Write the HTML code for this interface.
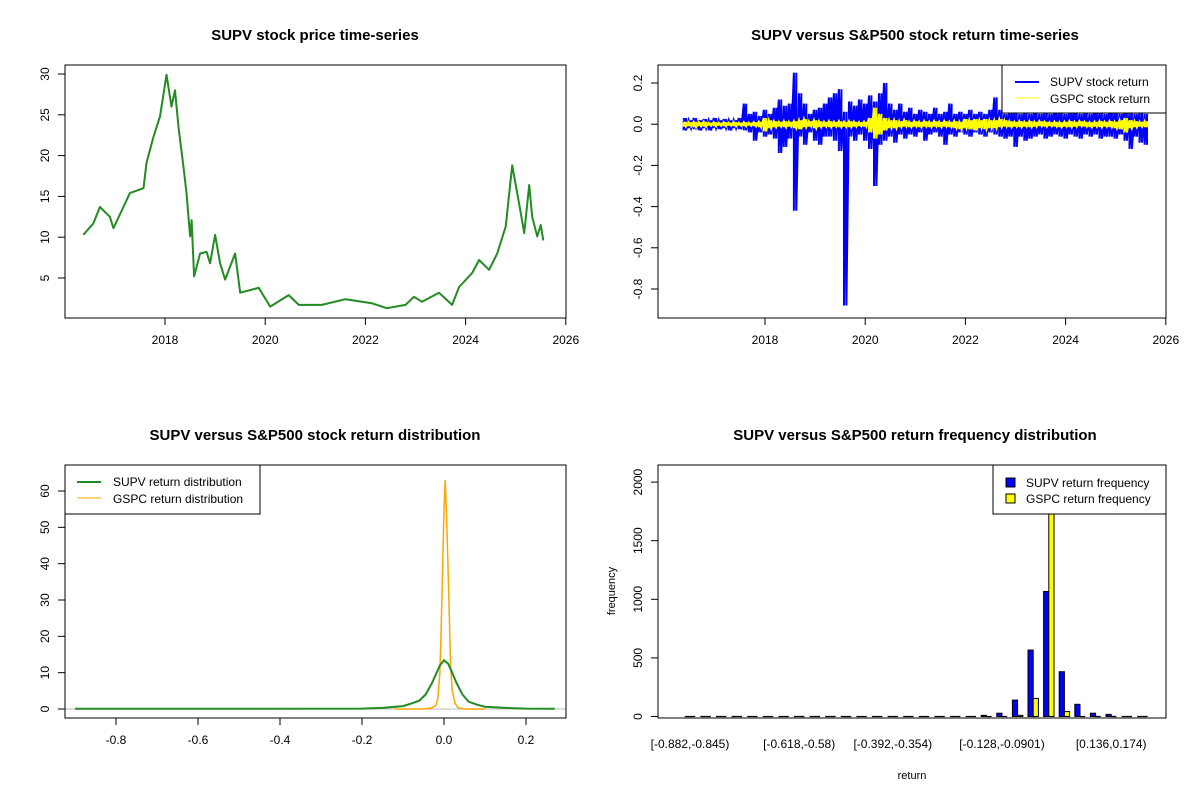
<!DOCTYPE html>
<html><head><meta charset="utf-8"><style>
html,body{margin:0;padding:0;background:#fff;}
svg{display:block;font-family:"Liberation Sans",Arial,sans-serif;}
.t{font-weight:bold;font-size:15px;text-anchor:middle;}
.tk{font-size:12px;}
</style></head><body>
<svg id="c" width="1200" height="800" viewBox="0 0 1200 800" xmlns="http://www.w3.org/2000/svg"></svg>
<script>
// ---- Panel 1: price ----
const priceYears=[2016.37,2016.57,2016.7,2016.9,2016.97,2017.17,2017.3,2017.57,2017.63,2017.77,2017.9,2018.03,2018.13,2018.2,2018.27,2018.37,2018.43,2018.5,2018.53,2018.58,2018.7,2018.83,2018.9,2019.0,2019.1,2019.2,2019.4,2019.5,2019.87,2020.1,2020.47,2020.67,2021.13,2021.6,2022.13,2022.43,2022.8,2022.97,2023.13,2023.47,2023.73,2023.87,2024.13,2024.27,2024.47,2024.63,2024.8,2024.93,2025.03,2025.1,2025.17,2025.27,2025.33,2025.43,2025.5,2025.55];
const priceValues=[10.3,11.7,13.7,12.5,11.1,13.7,15.4,16,19.1,22.3,24.8,29.9,26,28,23.5,18.6,15.4,10.1,12.1,5.2,8,8.2,6.8,10.3,6.8,4.8,8,3.2,3.8,1.5,2.9,1.7,1.7,2.4,1.9,1.3,1.7,2.7,2.1,3.2,1.7,3.9,5.6,7.2,6.0,8,11.3,18.8,15.4,13,10.5,16.4,12.5,10.1,11.5,9.6];
const yearTicks=[2018,2020,2022,2024,2026];
const priceTicks=[5,10,15,20,25,30];
// ---- Panel 2: returns (sampled every 0.1 yr from 2016.4) ----
const retStart=2016.4, retStep=0.1;
const supvUp=[0.03,0.02,0.03,0.02,0.025,0.02,0.03,0.02,0.025,0.02,0.02,0.03,0.1,0.05,0.06,0.04,0.07,0.05,0.08,0.12,0.09,0.1,0.25,0.15,0.1,0.05,0.07,0.08,0.1,0.13,0.15,0.17,0.06,0.11,0.09,0.12,0.1,0.14,0.11,0.15,0.2,0.1,0.07,0.1,0.06,0.08,0.05,0.07,0.06,0.05,0.08,0.05,0.06,0.1,0.05,0.06,0.05,0.07,0.05,0.06,0.05,0.07,0.13,0.07,0.05,0.06,0.07,0.05,0.06,0.05,0.07,0.05,0.06,0.05,0.07,0.06,0.05,0.06,0.07,0.05,0.06,0.05,0.07,0.06,0.05,0.07,0.06,0.05,0.07,0.06,0.05,0.06,0.05];
const supvDown=[-0.03,-0.02,-0.025,-0.03,-0.02,-0.03,-0.02,-0.025,-0.02,-0.03,-0.02,-0.025,-0.03,-0.04,-0.08,-0.04,-0.06,-0.05,-0.07,-0.14,-0.11,-0.07,-0.42,-0.06,-0.1,-0.04,-0.08,-0.1,-0.06,-0.06,-0.08,-0.13,-0.88,-0.06,-0.08,-0.05,-0.08,-0.12,-0.3,-0.1,-0.08,-0.06,-0.09,-0.05,-0.07,-0.05,-0.06,-0.04,-0.08,-0.05,-0.04,-0.06,-0.1,-0.05,-0.06,-0.04,-0.05,-0.06,-0.04,-0.05,-0.06,-0.04,-0.05,-0.06,-0.07,-0.06,-0.11,-0.06,-0.08,-0.07,-0.06,-0.05,-0.07,-0.06,-0.05,-0.06,-0.07,-0.05,-0.06,-0.07,-0.05,-0.06,-0.05,-0.07,-0.06,-0.06,-0.07,-0.05,-0.08,-0.12,-0.06,-0.09,-0.1];
const gspcUp=[0.012,0.01,0.012,0.01,0.012,0.008,0.01,0.008,0.01,0.008,0.01,0.008,0.01,0.008,0.01,0.012,0.03,0.02,0.015,0.012,0.015,0.012,0.015,0.02,0.025,0.015,0.02,0.015,0.012,0.015,0.012,0.015,0.012,0.015,0.012,0.01,0.012,0.03,0.08,0.05,0.03,0.02,0.02,0.015,0.02,0.012,0.015,0.012,0.015,0.012,0.015,0.012,0.015,0.012,0.015,0.012,0.025,0.02,0.025,0.02,0.025,0.02,0.02,0.025,0.02,0.015,0.012,0.015,0.012,0.015,0.012,0.015,0.012,0.01,0.012,0.01,0.012,0.015,0.012,0.015,0.012,0.01,0.012,0.015,0.012,0.015,0.012,0.02,0.03,0.02,0.015,0.012,0.015];
const gspcDown=[-0.012,-0.01,-0.015,-0.01,-0.012,-0.008,-0.01,-0.008,-0.01,-0.008,-0.01,-0.008,-0.01,-0.008,-0.01,-0.015,-0.035,-0.02,-0.015,-0.012,-0.015,-0.012,-0.02,-0.025,-0.015,-0.012,-0.02,-0.015,-0.012,-0.015,-0.012,-0.015,-0.012,-0.015,-0.012,-0.01,-0.012,-0.04,-0.07,-0.05,-0.03,-0.02,-0.02,-0.015,-0.012,-0.015,-0.012,-0.015,-0.012,-0.015,-0.012,-0.015,-0.012,-0.015,-0.02,-0.025,-0.02,-0.025,-0.03,-0.02,-0.025,-0.02,-0.02,-0.015,-0.012,-0.015,-0.012,-0.015,-0.012,-0.015,-0.012,-0.01,-0.012,-0.01,-0.012,-0.015,-0.012,-0.015,-0.012,-0.01,-0.012,-0.015,-0.012,-0.015,-0.012,-0.015,-0.02,-0.025,-0.04,-0.02,-0.015,-0.012,-0.015];
const retTicks=[0.2,0,-0.2,-0.4,-0.6,-0.8];
// ---- Panel 3: density ----
const supvDensX=[-0.9,-0.5,-0.2,-0.15,-0.1,-0.08,-0.06,-0.045,-0.03,-0.02,-0.01,0,0.01,0.02,0.03,0.045,0.06,0.08,0.1,0.15,0.2,0.27];
const supvDensY=[0.05,0.05,0.1,0.3,0.8,1.5,2.3,4,7,9.5,12,13.4,12.5,10,7.3,4,2,1.2,0.6,0.3,0.1,0.05];
const gspcDensX=[-0.12,-0.05,-0.03,-0.02,-0.015,-0.01,-0.005,0,0.003,0.007,0.012,0.016,0.02,0.027,0.035,0.05,0.1];
const gspcDensY=[0,0,0.3,1,3,10,30,55,63,50,30,12,5,1.5,0.3,0,0];
const densXTicks=[-0.8,-0.6,-0.4,-0.2,0,0.2];
const densYTicks=[0,10,20,30,40,50,60];
// ---- Panel 4: histogram (30 bins) ----
const binLabels=["[-0.882,-0.845)","","","","","","","[-0.618,-0.58)","","","","","","[-0.392,-0.354)","","","","","","","[-0.128,-0.0901)","","","","","","","[0.136,0.174)","",""];
const supvFreq=[1,0,0,0,0,0,0,0,0,0,0,0,0,0,0,0,0,0,8,10,28,140,567,1067,382,104,28,18,8,8];
const gspcFreq=[0,0,0,0,0,0,0,0,0,0,0,0,0,0,0,0,0,0,0,0,2,10,154,2300,42,5,1,0,0,0];
const freqTicks=[0,500,1000,1500,2000];

const NS="http://www.w3.org/2000/svg";
const svg=document.getElementById('c');
function mk(tag,attrs,parent,text){const e=document.createElementNS(NS,tag);for(const k in attrs)e.setAttribute(k,attrs[k]);if(text!==undefined)e.textContent=text;(parent||svg).appendChild(e);return e;}
function fmt(v,d){return v.toFixed(d);}
function box(g,x0,y0,x1,y1){const r=mk('rect',{x:x0,y:y0,width:x1-x0,height:y1-y0,fill:'none',stroke:'#000','stroke-width':1},g);}
function yAxis(g,ticks,fy,x0,dec){ticks.forEach(v=>{const y=fy(v);mk('line',{x1:x0-7,x2:x0,y1:y,y2:y,stroke:'#000'},g);const t=mk('text',{x:x0-16,y:y,'text-anchor':'middle',class:'tk',transform:`rotate(-90 ${x0-16} ${y})`},g,fmt(v,dec));});
 mk('line',{x1:x0,x2:x0,y1:fy(ticks[0]),y2:fy(ticks[ticks.length-1]),stroke:'#000'},g);}
function xAxis(g,ticks,fx,y0,dec){ticks.forEach(v=>{const x=fx(v);mk('line',{x1:x,x2:x,y1:y0,y2:y0+7,stroke:'#000'},g);const t=mk('text',{x:x,y:y0+26,'text-anchor':'middle',class:'tk'},g,fmt(v,dec));});
 mk('line',{x1:fx(ticks[0]),x2:fx(ticks[ticks.length-1]),y1:y0,y2:y0,stroke:'#000'},g);}
function title(g,x,y,s){const t=mk('text',{x:x,y:y,class:'t'},g,s);}

// Panel 1
(function(){const g=mk('g',{});
const fx=yr=>165+(yr-2018)*50.1, fy=v=>278-(v-5)*8.16;
title(g,315,40,'SUPV stock price time-series');
let d=priceYears.map((yr,i)=>(i?'L':'M')+fx(yr).toFixed(1)+' '+fy(priceValues[i]).toFixed(1)).join(' ');
const p=mk('path',{d:d,fill:'none',stroke:'#228B22','stroke-width':2,'stroke-linejoin':'round'},g);

box(g,65,65,566,318);yAxis(g,priceTicks,fy,65,0);xAxis(g,yearTicks,fx,318,0);})();

// Panel 2
(function(){const g=mk('g',{});
const fx=yr=>765+(yr-2018)*50.1, fy=v=>124.2-v*206;
title(g,915,40,'SUPV versus S&P500 stock return time-series');
function zig(up,dn){let s='';up.forEach((u,i)=>{const x=fx(retStart+i*retStep);s+=(i?'L':'M')+(x-1.2).toFixed(1)+' '+fy(u).toFixed(1)+' L'+(x+1.2).toFixed(1)+' '+fy(dn[i]).toFixed(1)+' ';});return s;}
function bars(up,dn){let s='';up.forEach((u,i)=>{const x=fx(retStart+i*retStep);s+='M'+(x+1.2).toFixed(1)+' '+fy(u).toFixed(1)+' L'+(x+1.2).toFixed(1)+' '+fy(dn[i]).toFixed(1)+' M'+(x-1.2).toFixed(1)+' '+fy(u*0.5).toFixed(1)+' L'+(x-1.2).toFixed(1)+' '+fy(dn[i]).toFixed(1)+' ';});return s;}
const s=mk('path',{d:zig(supvUp,supvDown)+bars(supvUp,supvDown),fill:'none',stroke:'#0000FF','stroke-width':2},g);

const y=mk('path',{d:zig(gspcUp,gspcDown)+bars(gspcUp,gspcDown),fill:'none',stroke:'#FFFF00','stroke-width':2},g);

box(g,658,65,1166,318);yAxis(g,retTicks,fy,658,1);xAxis(g,yearTicks,fx,318,0);
const lg=mk('g',{},g);
mk('rect',{x:1002,y:65,width:164,height:48,fill:'#fff',stroke:'#000'},lg);
mk('line',{x1:1015,x2:1039,y1:82,y2:82,stroke:'#0000FF','stroke-width':2},lg);
mk('line',{x1:1015,x2:1039,y1:98,y2:98,stroke:'#FFFF00','stroke-width':1},lg);
mk('text',{x:1050,y:86,class:'tk'},lg,'SUPV stock return');
mk('text',{x:1050,y:103,class:'tk'},lg,'GSPC stock return');})();

// Panel 3
(function(){const g=mk('g',{});
const fx=v=>444+v*410, fy=v=>709-v*3.633;
title(g,315,440,'SUPV versus S&P500 stock return distribution');
mk('line',{x1:65,x2:566,y1:fy(0),y2:fy(0),stroke:'#bebebe'},g);
const o=mk('path',{d:gspcDensX.map((x,i)=>(i?'L':'M')+fx(x).toFixed(1)+' '+fy(gspcDensY[i]).toFixed(1)).join(' '),fill:'none',stroke:'#FFA500','stroke-width':1.5},g);

const gr=mk('path',{d:supvDensX.map((x,i)=>(i?'L':'M')+fx(x).toFixed(1)+' '+fy(supvDensY[i]).toFixed(1)).join(' '),fill:'none',stroke:'#228B22','stroke-width':2},g);

box(g,65,465,566,718);yAxis(g,densYTicks,fy,65,0);xAxis(g,densXTicks,fx,718,1);
const lg=mk('g',{},g);
mk('rect',{x:65,y:465,width:195,height:49,fill:'#fff',stroke:'#000'},lg);
mk('line',{x1:77,x2:101,y1:482,y2:482,stroke:'#228B22','stroke-width':2},lg);
mk('line',{x1:77,x2:101,y1:498,y2:498,stroke:'#FFA500','stroke-width':1},lg);
mk('text',{x:113,y:486,class:'tk'},lg,'SUPV return distribution');
mk('text',{x:113,y:503,class:'tk'},lg,'GSPC return distribution');})();

// Panel 4
(function(){const g=mk('g',{});
const fy=v=>716.5-v*0.1172, w=5.2, fx=i=>690+i*15.6;
title(g,915,440,'SUPV versus S&P500 return frequency distribution');
const cpath=mk('clipPath',{id:'hc'},g);
mk('rect',{x:658,y:465,width:508,height:253},cpath);
const bg=mk('g',{'clip-path':'url(#hc)'},g);
function bar(x,v,col){const y=fy(v),h=fy(0)-y;
 if(h<1){const l=mk('line',{x1:x,x2:x+w,y1:fy(0),y2:fy(0),stroke:'#000','stroke-width':1.2},bg);return;}
 const r=mk('rect',{x:x,y:y,width:w,height:h,fill:col==='supv'?'#0000FF':'#FFFF00',stroke:'#000','stroke-width':1},bg);}
supvFreq.forEach((v,i)=>bar(fx(i)-w,v,'supv'));
gspcFreq.forEach((v,i)=>bar(fx(i),v,'gspc'));
binLabels.forEach((s,i)=>{if(!s)return;const t=mk('text',{x:fx(i),y:748,'text-anchor':'middle',class:'tk'},g,s);});
box(g,658,465,1166,718);yAxis(g,freqTicks,fy,658,0);
const xl=mk('text',{x:912,y:779,'text-anchor':'middle','font-size':'11px'},g,'return');
const yl=mk('text',{x:615,y:591,'text-anchor':'middle','font-size':'11px',transform:'rotate(-90 615 591)'},g,'frequency');
const lg=mk('g',{},g);
mk('rect',{x:993,y:465,width:173,height:49,fill:'#fff',stroke:'#000'},lg);
mk('rect',{x:1006,y:478,width:9,height:9,fill:'#0000FF',stroke:'#000'},lg);
mk('rect',{x:1006,y:494,width:9,height:9,fill:'#FFFF00',stroke:'#000'},lg);
mk('text',{x:1026,y:487,class:'tk'},lg,'SUPV return frequency');
mk('text',{x:1026,y:503,class:'tk'},lg,'GSPC return frequency');})();
</script>
</body></html>
